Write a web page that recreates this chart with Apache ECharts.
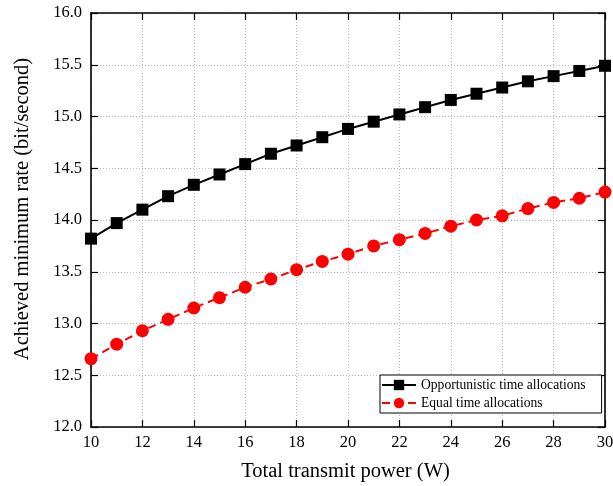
<!DOCTYPE html>
<html>
<head>
<meta charset="utf-8">
<script src="https://cdn.jsdelivr.net/npm/echarts@6/dist/echarts.min.js"></script>
<style>html,body{margin:0;padding:0;background:#fff}#c{width:613px;height:486px}</style>
</head>
<body>
<div id="c"></div>
<script>
const powers = [10,11,12,13,14,15,16,17,18,19,20,21,22,23,24,25,26,27,28,29,30];
const opportunistic = [13.82,13.97,14.10,14.23,14.34,14.44,14.54,14.64,14.72,14.80,14.88,14.95,15.02,15.09,15.16,15.22,15.28,15.34,15.39,15.44,15.49];
const equalAlloc = [12.66,12.80,12.93,13.04,13.15,13.25,13.35,13.43,13.52,13.60,13.67,13.75,13.81,13.87,13.94,14.00,14.04,14.11,14.17,14.21,14.27];
const seriesNames = ['Opportunistic time allocations','Equal time allocations'];
const xTitle = 'Total transmit power (W)';
const yTitle = 'Achieved minimum rate (bit/second)';

const font = 'Liberation Serif';
const chart = echarts.init(document.getElementById('c'));
const axisLine = {show:true, lineStyle:{color:'#000', width:1.6}};
const tick = {show:true, inside:true, length:7, lineStyle:{color:'#000', width:1.2}};
chart.setOption({
  animation:false,
  backgroundColor:'#fff',
  grid:{left:91, right:8, top:13, bottom:59, containLabel:false, outerBoundsMode:'none'},
  legend:{
    orient:'vertical', left:380, top:375,
    backgroundColor:'#fff', borderColor:'#000', borderWidth:1,
    padding:[3,16,3,1], itemGap:4, itemWidth:34, itemHeight:13,
    textStyle:{fontFamily:font, fontSize:13.6, color:'#000'},
    data:seriesNames
  },
  xAxis:[{
    type:'value', min:10, max:30, interval:2,
    name:xTitle, nameLocation:'middle', nameGap:34,
    nameTextStyle:{fontFamily:font, fontSize:20.5, color:'#000', padding:[0,5,0,0]},
    axisLine:axisLine, axisTick:tick,
    axisLabel:{fontFamily:font, fontSize:16.5, color:'#000', margin:7},
    splitLine:{show:true, lineStyle:{color:'#bbb', type:[1,2], width:1}}
  },{
    type:'value', min:10, max:30, interval:2, position:'top',
    axisLine:axisLine, axisTick:tick, axisLabel:{show:false}, splitLine:{show:false}
  }],
  yAxis:[{
    type:'value', min:12, max:16, interval:0.5,
    name:yTitle, nameLocation:'middle', nameGap:58,
    nameTextStyle:{fontFamily:font, fontSize:20.5, color:'#000', padding:[0,0,0,22]},
    axisLine:axisLine, axisTick:tick,
    axisLabel:{fontFamily:font, fontSize:16.5, color:'#000', margin:9, formatter:v=>v.toFixed(1)},
    splitLine:{show:true, lineStyle:{color:'#bbb', type:[1,2], width:1}}
  },{
    type:'value', min:12, max:16, interval:0.5, position:'right',
    axisLine:axisLine, axisTick:tick, axisLabel:{show:false}, splitLine:{show:false}
  }],
  series:[{
    name:seriesNames[0], type:'line',
    data:powers.map((p,i)=>[p, opportunistic[i]]),
    symbol:'rect', symbolSize:12,
    lineStyle:{color:'#000', width:2},
    itemStyle:{color:'#000'}
  },{
    name:seriesNames[1], type:'line',
    data:powers.map((p,i)=>[p, equalAlloc[i]]),
    symbol:'circle', symbolSize:13,
    lineStyle:{color:'#ff0000', width:2, type:[8,5]},
    itemStyle:{color:'#ff0000'}
  }]
});
</script>
</body>
</html>
